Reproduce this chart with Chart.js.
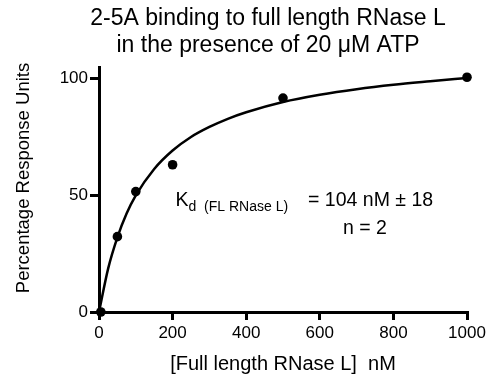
<!DOCTYPE html>
<html><head><meta charset="utf-8">
<style>html,body{margin:0;padding:0;background:#fff;}#wrap{width:491px;height:379px;}</style>
<script src="https://cdn.jsdelivr.net/npm/chart.js@4"></script>
</head><body><div id="wrap"><canvas id="c" width="491" height="379"></canvas></div>
<script>
const titleLines = ['2-5A binding to full length RNase L', 'in the presence of 20 \u03BCM ATP'];
const xAxisTitle = '[Full length RNase L]  nM';
const yAxisTitle = 'Percentage Response Units';
const kdLabel = ['K', 'd  (FL RNase L)', '= 104 nM \u00B1 18', 'n = 2'];
const concentrations = [5, 50, 100, 200, 500, 1000];
const responses = [0, 32.3, 51.6, 63.1, 91.7, 100.6];
const fitX = [0, 25, 50, 75, 100, 150, 200, 250, 300, 350, 400, 500, 600, 700, 800, 900, 1000];
const fitY = [0, 18.7, 32, 42.2, 50, 61.3, 69.2, 75, 79.3, 82.8, 85.6, 90, 93.1, 95.5, 97.4, 98.9, 100.3];
const xTickValues = [0, 200, 400, 600, 800, 1000];
const yTickValues = [0, 50, 100];

const FONT = '"Liberation Sans", Arial, sans-serif';

const textPlugin = {
  id: 'texts',
  afterDraw(chart) {
    const ctx = chart.ctx, xs = chart.scales.x, ys = chart.scales.y;
    ctx.save();
    ctx.fillStyle = '#000';
    ctx.textBaseline = 'alphabetic';
    ctx.textAlign = 'center';
    ctx.font = '23px ' + FONT;
    ctx.fillText(titleLines[0], 268, 25);
    ctx.fillText(titleLines[1], 268, 51.5);
    ctx.save();
    ctx.translate(29, 178);
    ctx.rotate(-Math.PI / 2);
    ctx.font = '18.5px ' + FONT;
    ctx.fillText(yAxisTitle, 0, 0);
    ctx.restore();
    ctx.textAlign = 'left';
    const kx = xs.getPixelForValue(208), ky = ys.getPixelForValue(45.5);
    ctx.font = '19.5px ' + FONT;
    ctx.fillText(kdLabel[0], kx, ky);
    const kw = ctx.measureText(kdLabel[0]).width;
    ctx.font = '14px ' + FONT;
    ctx.fillText(kdLabel[1], kx + kw, ky + 4.7);
    ctx.font = '19.5px ' + FONT;
    ctx.fillText(kdLabel[2], xs.getPixelForValue(568), ky);
    ctx.fillText(kdLabel[3], xs.getPixelForValue(663), ys.getPixelForValue(33.5));
    ctx.restore();
  }
};

new Chart(document.getElementById('c'), {
  type: 'scatter',
  data: {
    datasets: [
      {
        type: 'line',
        data: fitX.map((x, i) => ({x: x, y: fitY[i]})),
        borderColor: '#000',
        borderWidth: 2.5,
        pointRadius: 0,
        cubicInterpolationMode: 'monotone',
        fill: false,
        clip: false
      },
      {
        data: concentrations.map((x, i) => ({x: x, y: responses[i]})),
        backgroundColor: '#000',
        borderColor: '#000',
        pointRadius: 4.8,
        pointBorderWidth: 0,
        clip: false
      }
    ]
  },
  options: {
    responsive: false,
    devicePixelRatio: 1,
    animation: false,
    layout: {padding: {top: 67, left: 0, right: 24, bottom: 0}},
    plugins: {legend: {display: false}, tooltip: {enabled: false}, title: {display: false}},
    scales: {
      x: {
        type: 'linear', min: 0, max: 1000,
        afterBuildTicks: s => { s.ticks = xTickValues.map(v => ({value: v})); },
        afterFit: s => { s.height = 67; },
        grid: {display: true, drawOnChartArea: false, drawTicks: true, tickLength: 8, color: '#000', lineWidth: 3},
        border: {display: true, color: '#000', width: 3},
        ticks: {color: '#000', font: {size: 17, family: FONT}, padding: 3, maxRotation: 0, autoSkip: false,
                callback: v => String(v)},
        title: {display: true, text: xAxisTitle, color: '#000', font: {size: 20, family: FONT}, padding: {top: 0, bottom: 3}}
      },
      y: {
        type: 'linear', min: 0, max: 105,
        afterBuildTicks: s => { s.ticks = yTickValues.map(v => ({value: v})); },
        afterFit: s => { s.width = 99; },
        grid: {display: true, drawOnChartArea: false, drawTicks: true, tickLength: 9, color: '#000', lineWidth: 3},
        border: {display: true, color: '#000', width: 3},
        ticks: {color: '#000', font: {size: 17, family: FONT}, padding: 2, callback: v => String(v)},
        title: {display: false}
      }
    }
  },
  plugins: [textPlugin]
});
</script>
</body></html>
